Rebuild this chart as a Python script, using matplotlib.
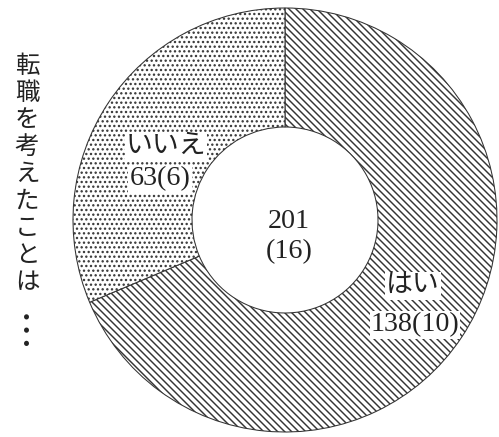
import matplotlib.pyplot as plt

# データ
labels = ['はい', 'いいえ']
counts = [138, 63]
sub_counts = [10, 6]
total = 201
total_sub = 16
question = '転職を考えたことは'

DPI = 84
W, H = 499, 437

plt.rcParams['hatch.linewidth'] = 1.25
plt.rcParams['hatch.color'] = '#1a1a1a'

fig = plt.figure(figsize=(W / DPI, H / DPI), dpi=DPI)
ax = fig.add_axes([0, 0, 1, 1])


def Y(y):
    # 上からのピクセル位置 -> データ座標
    return H - y


cx, cy, r_out, r_in = 285, 220, 212, 93

wedges, _ = ax.pie(counts, startangle=90, counterclock=False,
                   center=(cx, Y(cy)), radius=r_out, frame=True,
                   colors=['white', 'white'],
                   wedgeprops=dict(width=r_out - r_in, edgecolor='#333333',
                                   linewidth=0.9))
wedges[0].set_hatch('\\' * 4)
wedges[1].set_hatch('...')
ax.set_xlim(0, W)
ax.set_ylim(0, H)
ax.set_aspect('equal')
ax.axis('off')

fam = ['Liberation Serif', 'Noto Sans CJK JP']
fs = 24
box = dict(facecolor='white', edgecolor='none', pad=1.0)

# はい
ax.text(413, Y(286), labels[0], family=fam, fontsize=fs - 1, ha='center',
        va='center', color='#222222', bbox=box)
ax.text(415, Y(325), f'{counts[0]}({sub_counts[0]})', family=fam,
        fontsize=fs, ha='center', va='center', color='#222222', bbox=box)

# いいえ
ax.text(166, Y(146), labels[1], family=fam, fontsize=fs - 1, ha='center',
        va='center', color='#222222', bbox=box)
ax.text(160, Y(179), f'{counts[1]}({sub_counts[1]})', family=fam,
        fontsize=fs, ha='center', va='center', color='#222222', bbox=box)

# 中央
ax.text(289, Y(222), str(total), family=fam, fontsize=fs, ha='center',
        va='center', color='#222222')
ax.text(289, Y(252), f'({total_sub})', family=fam, fontsize=fs,
        ha='center', va='center', color='#222222')

# 縦書きの質問文
for i, ch in enumerate(question):
    ax.text(27, Y(66 + 27 * i), ch, family=['Noto Sans CJK JP', 'DejaVu Sans'],
            fontsize=21, ha='center', va='center', color='#222222')
ax.text(27, Y(325), '…', family=['Noto Sans CJK JP', 'DejaVu Sans'],
        fontsize=34, rotation=90, ha='center', va='center', color='#222222')

fig.savefig('out.png', dpi=DPI, facecolor='white')
